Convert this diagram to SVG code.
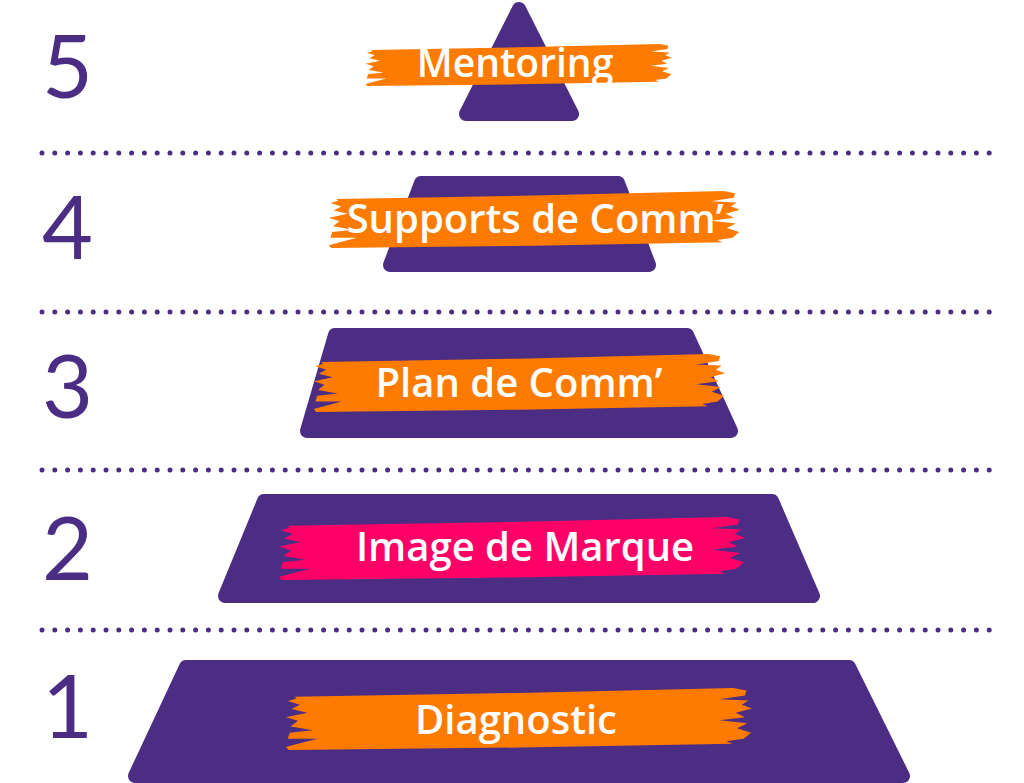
<svg xmlns="http://www.w3.org/2000/svg" xmlns:xlink="http://www.w3.org/1999/xlink" width="1024" height="783" viewBox="0 0 1024 783">
<style>
.tier{fill:#4c2d84;stroke:#4c2d84;stroke-width:14;stroke-linejoin:round}
.num{font-family:Lato,"Liberation Sans",sans-serif;font-weight:400;font-size:88px;fill:#4c2d84}
.lbl{font-family:"Open Sans","Liberation Sans",sans-serif;font-weight:600;fill:#ffffff;text-anchor:middle}
.dots{stroke:#4c2d84;stroke-width:5;stroke-linecap:round;stroke-dasharray:0 12.8;fill:none}
.orange{fill:#ff7b00}
.pink{fill:#ff0066}
</style>
<defs>
<path id="brush" d="M20,14 L500,8 L960,0 L988,4 L985,12 L930,18 L992,20 L978,27 L1000,33 L965,40 L985,47 L930,52 L990,57 L968,65 L998,72 L982,82 L945,86 L958,90 L500,96 L8,100 L2,95 L38,88 L70,82 L6,82 L10,72 L60,68 L12,62 L28,53 L2,47 L48,40 L14,34 L32,27 L6,21 L25,17 Z"/>
</defs>
<g id="separators">
<line class="dots" x1="42" y1="153" x2="990" y2="153"/>
<line class="dots" x1="42" y1="312" x2="990" y2="312"/>
<line class="dots" x1="42" y1="470" x2="990" y2="470"/>
<line class="dots" x1="42" y1="630" x2="990" y2="630"/>
</g>
<g id="level5">
<text class="num" x="42" y="98">5</text>
<polygon class="tier" points="519,9 572,114 466,114"/>
<use xlink:href="#brush" class="orange" transform="translate(365,44) scale(0.307,0.42)"/>
<text class="lbl" x="515" y="77" font-size="39">Mentoring</text>
</g>
<g id="level4">
<text class="num" x="42" y="259">4</text>
<polygon class="tier" points="421,183 618,183 649,265 390,265"/>
<use xlink:href="#brush" class="orange" transform="translate(328,191) scale(0.412,0.57)"/>
<text class="lbl" x="535" y="233" font-size="40">Supports de Comm’</text>
</g>
<g id="level3">
<text class="num" x="42" y="418">3</text>
<polygon class="tier" points="335,335 687,335 731,431 307,431"/>
<use xlink:href="#brush" class="orange" transform="translate(313,354) scale(0.412,0.58)"/>
<text class="lbl" x="519" y="397" font-size="40">Plan de Comm’</text>
</g>
<g id="level2">
<text class="num" x="42" y="580">2</text>
<polygon class="tier" points="264,501 772,501 813,596 225,596"/>
<use xlink:href="#brush" class="pink" transform="translate(278,517) scale(0.467,0.63)"/>
<text class="lbl" x="525" y="561" font-size="40">Image de Marque</text>
</g>
<g id="level1">
<text class="num" x="42" y="738">1</text>
<polygon class="tier" points="186,667 849,667 903,776 135,776"/>
<use xlink:href="#brush" class="orange" transform="translate(285,688) scale(0.467,0.62)"/>
<text class="lbl" x="516" y="734" font-size="40">Diagnostic</text>
</g>
</svg>
